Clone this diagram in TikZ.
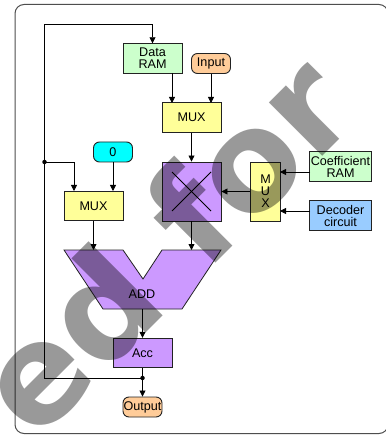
\documentclass[tikz,border=0pt]{standalone}
\usepackage{fontspec}
\setmainfont{Liberation Sans}
\newfontfamily\markfont{DejaVu Sans}
\usetikzlibrary{arrows.meta}
\definecolor{cgreen}{HTML}{CCFFCC}
\definecolor{corange}{HTML}{FFCC99}
\definecolor{cyellow}{HTML}{FFFF99}
\definecolor{cpurple}{HTML}{CC99FF}
\definecolor{ccyan}{HTML}{00FFFF}
\definecolor{cblue}{HTML}{99CCFF}
\definecolor{cedge}{HTML}{222222}
\definecolor{cmark}{HTML}{999999}
\tikzset{
  box/.style={draw=cedge,line width=0.9pt,inner sep=0pt,align=center,font=\fontsize{12.6}{12}\selectfont},
  rectbox/.style={box,minimum width=59pt,minimum height=29.5pt},
  pill/.style={box,rounded corners=6pt,minimum width=39pt,minimum height=20pt},
  wire/.style={draw=black,line width=0.8pt},
  arrow/.style={wire,-{Triangle[length=6pt,width=6pt]}},
  dot/.style={circle,fill=black,inner sep=0pt,minimum size=4.5pt},
}
\begin{document}
\begin{tikzpicture}[x=1pt,y=-1pt]
\useasboundingbox (0,0) rectangle (385,435);
\fill[white] (0,0) rectangle (385,435);
\draw[draw=cedge!80,line width=1pt,rounded corners=9pt] (15,4.5) rectangle (388,433.5);
% nodes
\node[rectbox,fill=cgreen] (dram) at (152.5,58.5) {Data\\RAM};
\node[pill,fill=corange] (input) at (211,63.5) {Input};
\node[rectbox,fill=cyellow] (mux1) at (191.5,117.5) {MUX};
\node[pill,fill=ccyan] (zero) at (113,152) {0};
\node[rectbox,fill=cpurple,minimum height=59pt] (mult) at (191.5,191.5) {};
\node[rectbox,fill=cyellow,minimum width=29.5pt,minimum height=59pt] (mux3) at (265.5,191.5) {M\\U\\X};
\node[rectbox,fill=cgreen,minimum width=62pt] (coef) at (340.5,166.5) {Coefficient\\RAM};
\node[rectbox,fill=cblue,minimum width=62pt] (dec) at (340.5,215.5) {Decoder\\circuit};
\node[rectbox,fill=cyellow] (mux2) at (93.5,206) {MUX};
\draw[draw=cedge,line width=0.8pt,fill=cpurple] (64,250) -- (123,250) -- (143,279) -- (162,250) -- (221,250) -- (182,309) -- (103,309) -- cycle;
\node[font=\fontsize{12.6}{12}\selectfont,inner sep=0pt] (add) at (142,294) {ADD};
\node[rectbox,fill=cpurple] (acc) at (142.5,353) {Acc};
\node[pill,fill=corange] (out) at (142.5,407) {Output};
% named points
\coordinate (addtop1) at (93.5,250);
\coordinate (addtop2) at (191.5,250);
\coordinate (addbot) at (142.5,309);
\node[dot] (j1) at (142.5,378) {};
\node[dot] (j2) at (44.5,162) {};
\coordinate (cl) at (44.5,378);
\coordinate (ctl) at (44.5,24);
\coordinate (ctr) at (152.5,24);
\coordinate (ml) at (74,162);
\coordinate (m2a) at (74,191);
\coordinate (m2b) at (113,191);
\coordinate (m1a) at (172,103);
\coordinate (m1b) at (211,103);
\coordinate (ds) at (172,73);
\coordinate (xa) at (172,172);
\coordinate (xb) at (211,211);
\coordinate (xc) at (211,172);
\coordinate (xd) at (172,211);
\coordinate (c3a) at (280,172);
\coordinate (c3b) at (280,211);
\coordinate (c3c) at (310,172);
\coordinate (c3d) at (310,211);
% connectors
\draw[arrow] (j1.center) -- (cl) -- (ctl) -- (ctr) -- (dram.north);
\draw[arrow] (j2.center) -- (ml) -- (m2a);
\draw[arrow] (zero.south) -- (m2b);
\draw[arrow] (ds) -- (m1a);
\draw[arrow] (input.south) -- (m1b);
\draw[arrow] (mux1.south) -- (mult.north);
\draw[arrow] (mux3.west) -- (mult.east);
\draw[arrow] (c3c) -- (c3a);
\draw[arrow] (c3d) -- (c3b);
\draw[arrow] (mux2.south) -- (addtop1);
\draw[arrow] (mult.south) -- (addtop2);
\draw[arrow] (addbot) -- (acc.north);
\draw[wire] (acc.south) -- (j1.center);
\draw[arrow] (j1.center) -- (out.north);
\draw[wire] (xa) -- (xb);
\draw[wire] (xc) -- (xd);
% watermark
\begin{scope}[blend mode=multiply]
\node[rotate=45,anchor=base west,text=cmark,inner sep=0pt,font=\fontsize{138}{138}\markfont\bfseries\selectfont] (wm) at (35,444) {ed for};
\end{scope}
\end{tikzpicture}
\end{document}
